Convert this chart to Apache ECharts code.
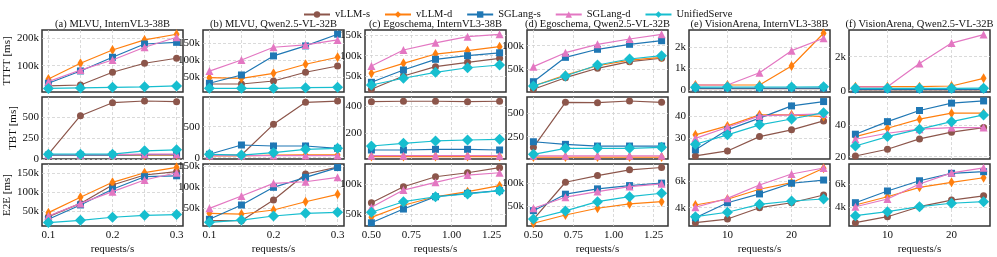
<!DOCTYPE html>
<html><head><meta charset="utf-8">
<script src="https://cdn.jsdelivr.net/npm/echarts@6/dist/echarts.min.js"></script>
<style>html,body{margin:0;padding:0;background:#fff}#c{width:997px;height:257px}</style>
</head><body><div id="c"></div><script>
// ---------- data ----------
const seriesNames = ['vLLM-s', 'vLLM-d', 'SGLang-s', 'SGLang-d', 'UnifiedServe'];
const panelTitles = ['(a) MLVU, InternVL3-38B', '(b) MLVU, Qwen2.5-VL-32B', '(c) Egoschema, InternVL3-38B',
  '(d) Egoschema, Qwen2.5-VL-32B', '(e) VisionArena, InternVL3-38B', '(f) VisionArena, Qwen2.5-VL-32B'];
const rowNames = ['TTFT [ms]', 'TBT [ms]', 'E2E [ms]'];
const xLabel = 'requests/s';

const xMLVU = [0.1, 0.15, 0.2, 0.25, 0.3];
const xEgo = [0.5, 0.7, 0.9, 1.1, 1.3];
const xVA = [5, 10, 15, 20, 25];

const xTicksMLVU = [0.1, 0.2, 0.3];
const xGridMLVU = [0.1, 0.15, 0.2, 0.25, 0.3];
const xTicksEgo = [0.5, 0.75, 1.0, 1.25];
const xTicksVA = [10, 20];

// order of rows in each panel array: vLLM-s, vLLM-d, SGLang-s, SGLang-d, UnifiedServe
const ttftA = [[26000, 29600, 76000, 108800, 127000], [51500, 108800, 157000, 194000, 214600], [36000, 80700, 130600, 179000, 185000], [41600, 84000, 120800, 167000, 203600], [17000, 19000, 21000, 23000, 26000]];
const ttftB = [[28600, 28600, 37500, 63400, 82000], [47300, 45500, 60400, 87200, 108000], [30700, 55400, 112000, 141700, 176500], [67000, 100000, 137800, 144600, 159500], [15800, 15800, 15800, 17600, 18700]];
const ttftC = [[19200, 51200, 73600, 84000, 93700], [57700, 81700, 104000, 112000, 121600], [36000, 65600, 91300, 100000, 107000], [75200, 113700, 131000, 145700, 151400], [29600, 45700, 60000, 71000, 77600]];
const ttftD = [[6400, 31300, 51500, 65700, 73000], [13500, 37000, 57000, 69000, 75000], [22700, 75000, 92300, 103000, 110700], [55000, 85000, 103000, 114400, 124500], [13500, 35000, 58600, 71500, 78500]];
const ttftE = [[60, 60, 60, 60, 60], [234, 234, 234, 1120, 2650], [90, 90, 90, 90, 90], [234, 234, 808, 1837, 2415], [130, 140, 140, 140, 150]];
const ttftF = [[50, 50, 50, 50, 50], [235, 235, 235, 276, 730], [80, 80, 80, 80, 80], [220, 230, 1600, 2800, 3300], [140, 140, 140, 140, 150]];

const tbtA = [[56, 515, 670, 690, 682], [45, 45, 45, 45, 45], [45, 45, 45, 50, 50], [50, 50, 50, 55, 55], [56, 56, 56, 95, 107]];
const tbtB = [[43, 43, 538, 893, 914], [30, 30, 40, 45, 45], [55, 205, 189, 189, 151], [35, 35, 35, 35, 35], [55, 43, 81, 135, 151]];
const tbtC = [[432, 435, 435, 432, 435], [30, 30, 30, 30, 30], [78, 78, 83, 83, 78], [36, 36, 36, 36, 36], [107, 127, 144, 151, 156]];
const tbtD = [[136, 619, 615, 633, 619], [32, 32, 32, 32, 32], [196, 168, 150, 150, 150], [45, 45, 45, 45, 45], [61, 125, 125, 125, 136]];
const tbtE = [[21.9, 24.2, 30.8, 33.9, 38], [31.6, 35.7, 40.8, 40.8, 40], [24.7, 33.9, 39.3, 44.9, 46.9], [30, 35.1, 40.3, 40.8, 41.2], [27.3, 31.6, 36.2, 38.9, 41.8]];
const tbtF = [[20.4, 24.7, 31.3, 35.6, 38.5], [32.8, 38.1, 43.9, 47.7, 47.7], [34.3, 42.3, 49.4, 54.1, 55.5], [31.1, 34.9, 37.5, 38.5, 38.5], [26.8, 32.8, 37.5, 42.3, 46.6]];

const e2eA = [[36500, 71000, 119000, 145000, 153600], [47000, 87000, 126000, 151000, 165000], [29700, 67000, 108000, 140600, 143000], [38300, 71000, 101600, 132000, 151000], [21000, 27000, 35000, 40000, 42000]];
const e2eB = [[20500, 20500, 69800, 131700, 148000], [38000, 36400, 46000, 65700, 83300], [23800, 57900, 100000, 123800, 147000], [50000, 79300, 109500, 113300, 123800], [16700, 22000, 31700, 38000, 40500]];
const e2eC = [[69000, 95500, 112000, 118600, 127000], [45000, 65000, 79000, 87300, 97200], [36000, 58700, 79000, 84600, 89000], [61600, 90000, 102800, 114800, 118600], [53300, 70800, 79000, 83500, 89000]];
const e2eD = [[22700, 102000, 116300, 128500, 133500], [14200, 32000, 46400, 55600, 60500], [41200, 76400, 87800, 94800, 100000], [46400, 70000, 82000, 92700, 98500], [23400, 40600, 60500, 71200, 78500]];
const e2eE = [[2880, 3150, 4000, 4370, 4950], [4200, 4630, 5380, 5870, 6950], [3250, 4370, 5030, 5830, 6070], [4030, 4700, 5700, 6520, 6970], [3330, 3660, 4250, 4500, 4650]];
const e2eF = [[2660, 3180, 4050, 4630, 5000], [4200, 4920, 5740, 6170, 6570], [4400, 5420, 6310, 6960, 7100], [4050, 4720, 6030, 7000, 7440], [3270, 3620, 4050, 4350, 4490]];

const yTicksTTFT = [[100000, 200000], [50000, 100000, 150000], [50000, 100000, 150000], [50000, 100000], [0, 1000, 2000], [0, 2000]];
const yTicksTBT = [[0, 250, 500], [0, 500], [200, 400], [250, 500], [30, 40], [20, 40]];
const yTicksE2E = [[50000, 100000, 150000], [50000, 100000, 150000], [50000, 100000], [50000, 100000], [4000, 6000], [4000, 6000]];

// ---------- styling / layout ----------
const colors = ['#8c564b', '#ff7f0e', '#1f77b4', '#e377c2', '#17becf'];
const symbols = ['circle', 'path://M0,0 L1,1 L0,2 L-1,1 Z', 'rect', 'triangle', 'diamond'];
const symSizes = [7, [6, 10], 7, 8, 11];
const FONT = 'Liberation Serif';
const colLeft = [42, 203, 365, 527, 689, 849];
const colW = 141;
const rowTop = [30, 97, 164];
const rowH = 62;
const yRanges = [
  [[4000, 230000], [4800, 189000], [12700, 161800], [600, 133700], [-93, 2800], [-76, 3570]],
  [[-2, 738], [-21, 979], [12, 466], [11, 676], [20.5, 49], [18.5, 58]],
  [[12200, 173700], [7900, 155500], [30700, 133000], [8400, 141000], [2630, 7270], [2370, 7770]]
];

const rowData = [[ttftA, ttftB, ttftC, ttftD, ttftE, ttftF], [tbtA, tbtB, tbtC, tbtD, tbtE, tbtF], [e2eA, e2eB, e2eC, e2eD, e2eE, e2eF]];
const rowTicks = [yTicksTTFT, yTicksTBT, yTicksE2E];
const colX = [xMLVU, xMLVU, xEgo, xEgo, xVA, xVA];
const colXTicks = [xTicksMLVU, xTicksMLVU, xTicksEgo, xTicksEgo, xTicksVA, xTicksVA];
const colXGrid = [xGridMLVU, xGridMLVU, xTicksEgo, xTicksEgo, xTicksVA, xTicksVA];
const colXRange = [[0.09, 0.31], [0.09, 0.31], [0.46, 1.34], [0.46, 1.34], [4, 26], [4, 26]];

function fmtY(v) {
  if (Math.abs(v) >= 1000) return (v / 1000) + 'k';
  return String(v);
}
function fmtX(c, v) {
  if (c === 2 || c === 3) return v.toFixed(2);
  return String(+v.toFixed(2));
}

const grids = [], xAxes = [], yAxes = [], series = [], graphics = [];
for (let r = 0; r < 3; r++) {
  for (let c = 0; c < 6; c++) {
    const idx = grids.length;
    grids.push({left: colLeft[c], top: rowTop[r], width: colW, height: rowH, show: true,
      borderColor: '#333', borderWidth: 1.5, backgroundColor: 'transparent', containLabel: false});
    xAxes.push({type: 'value', gridIndex: idx, min: colXRange[c][0], max: colXRange[c][1],
      axisLine: {show: false},
      axisTick: {show: false, customValues: colXGrid[c]},
      axisLabel: {show: r === 2, customValues: colXTicks[c], formatter: v => fmtX(c, v),
        fontFamily: FONT, fontSize: 11, color: '#111', margin: 4},
      splitLine: {show: true, lineStyle: {color: '#d0d0d0', type: [3, 2], width: 0.8}},
      name: r === 2 ? xLabel : '', nameLocation: 'middle', nameGap: 18,
      nameTextStyle: {fontFamily: FONT, fontSize: 11, color: '#111'}
    });
    yAxes.push({type: 'value', gridIndex: idx, min: yRanges[r][c][0], max: yRanges[r][c][1],
      axisLine: {show: false},
      axisTick: {show: false, customValues: rowTicks[r][c]},
      axisLabel: {customValues: rowTicks[r][c], formatter: fmtY, fontFamily: FONT, fontSize: 11, color: '#111', margin: 3},
      splitLine: {show: true, lineStyle: {color: '#d0d0d0', type: [3, 2], width: 0.8}},
      name: c === 0 ? rowNames[r] : '', nameLocation: 'middle', nameGap: 22,
      nameTextStyle: {fontFamily: FONT, fontSize: 11, color: '#111'}
    });
    const data = rowData[r][c];
    for (let s = 0; s < 5; s++) {
      series.push({
        type: 'line', name: seriesNames[s], xAxisIndex: idx, yAxisIndex: idx,
        data: colX[c].map((x, i) => [x, data[s][i]]),
        symbol: symbols[s], symbolSize: symSizes[s], showSymbol: true,
        itemStyle: {color: colors[s]},
        lineStyle: {color: colors[s], width: 1.2},
        emphasis: {disabled: true}, animation: false, z: 2 + s
      });
    }
  }
}
for (let c = 0; c < 6; c++) {
  graphics.push({type: 'text', x: colLeft[c] + colW / 2, y: 24,
    style: {text: panelTitles[c], fontFamily: FONT, fontSize: 10.5, fill: '#111', textAlign: 'center', textVerticalAlign: 'middle'}});
}

const option = {
  backgroundColor: '#fff',
  animation: false,
  legend: {data: seriesNames, left: 298, top: 4, itemWidth: 26, itemHeight: 8, itemGap: 14,
    textStyle: {fontFamily: FONT, fontSize: 10.5, color: '#111'}},
  grid: grids, xAxis: xAxes, yAxis: yAxes, series: series, graphic: graphics
};
const chart = echarts.init(document.getElementById('c'), null, {renderer: 'canvas'});
chart.setOption(option);
</script></body></html>
